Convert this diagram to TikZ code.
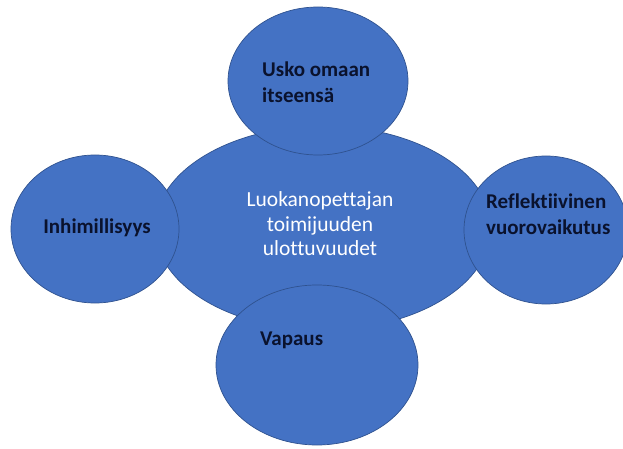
\documentclass[tikz,border=0pt]{standalone}
\usepackage{fontspec}
\setmainfont{Carlito}[Ligatures=NoCommon, RawFeature={-liga;-clig;-dlig}]
\usetikzlibrary{calc}
\usetikzlibrary{shapes.geometric}
\definecolor{ovalfill}{RGB}{68,114,196}
\definecolor{ovaledge}{RGB}{47,82,143}
\definecolor{labeltext}{RGB}{10,18,45}

\begin{document}
\begin{tikzpicture}[x=1pt, y=-1pt,
        O/.style={ellipse, draw=ovaledge, fill=ovalfill, line width=0.7pt, inner sep=0pt},
        L/.style={font=\fontsize{21}{25.5}\selectfont\bfseries, text=labeltext, align=left, inner sep=0pt},
        M/.style={font=\fontsize{21.5}{24.5}\selectfont, text=white, align=center, inner sep=0pt}
    ]
    \clip (0,0) rectangle (623,449);

    % the big one first, the four others lie over it
    \node[O, minimum width=336pt, minimum height=204pt] (core) at (323,228) {};
    \node[O, minimum width=180pt, minimum height=148pt] (usko) at (318,81) {};
    \node[O, minimum width=168pt, minimum height=148pt] (ihm) at (95,229) {};
    \node[O, minimum width=164pt, minimum height=148pt] (refl) at (546,230) {};
    \node[O, minimum width=202pt, minimum height=160pt] (vap) at (317,365) {};

    \node[M] (coret) at ($(core)+(-3,-4)$) {Luokanopettajan\\toimijuuden\\ulottuvuudet};
    \node[L, anchor=west] (uskot) at ($(usko)+(-56,1)$) {Usko omaan\\itseensä};
    \node[L] (ihmt) at ($(ihm)+(2,-1)$) {Inhimillisyys};
    \node[L, anchor=west] (reflt) at ($(refl)+(-60,-16)$) {Reflektiivinen\\vuorovaikutus};
    \node[L, anchor=west] (vapt) at ($(vap)+(-57,-25)$) {Vapaus};
\end{tikzpicture}
\end{document}
